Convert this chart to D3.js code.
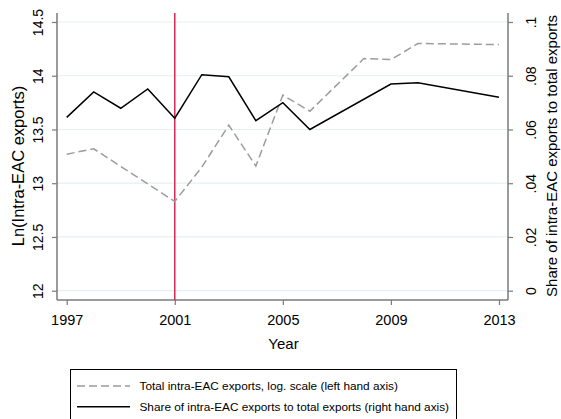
<!DOCTYPE html>
<html>
<head>
<meta charset="utf-8">
<script src="https://cdn.jsdelivr.net/npm/d3@7"></script>
<style>
  body { margin: 0; background: #fff; }
  svg { display: block; font-family: "Liberation Sans", Arial, sans-serif; }
</style>
</head>
<body>
<svg id="chart" width="561" height="419"></svg>
<script>
// total intra-EAC exports, ln (left axis) - years where vertices visible
const totalYears = [1997, 1998, 2001, 2002, 2003, 2004, 2005, 2006, 2008, 2009, 2010, 2013];
const totalLn = [13.27, 13.32, 12.83, 13.15, 13.54, 13.16, 13.82, 13.67, 14.16, 14.15, 14.30, 14.29];

// share of intra-EAC exports to total exports (right axis)
const shareYears = [1997, 1998, 1999, 2000, 2001, 2002, 2003, 2004, 2005, 2006, 2009, 2010, 2013];
const shareVals = [0.0645, 0.0740, 0.0679, 0.0751, 0.0642, 0.0804, 0.0796, 0.0633, 0.0700, 0.0600, 0.0769, 0.0774, 0.0720];

const xTicks = [1997, 2001, 2005, 2009, 2013];
const leftTicks = [12, 12.5, 13, 13.5, 14, 14.5];
const rightTicks = [0, 0.02, 0.04, 0.06, 0.08, 0.1];
const rightLabels = ["0", ".02", ".04", ".06", ".08", ".1"];
const markYear = 2001;

const legendItems = [
  "Total intra-EAC exports, log. scale (left hand axis)",
  "Share of intra-EAC exports to total exports (right hand axis)"
];

const svg = d3.select("#chart");
const axisColor = "#7a7a7a";
const dashGray = "#9c9c9c";

const plot = { left: 57, right: 508, top: 13, bottom: 300 };

const x = d3.scaleLinear().domain([1997, 2013]).range([66.7, 499]);
const yL = d3.scaleLinear().domain([12, 14.5]).range([290.7, 22]);
const yR = d3.scaleLinear().domain([0, 0.1]).range([290.7, 22]);

// gridlines
svg.append("g")
  .selectAll("line")
  .data(leftTicks)
  .enter().append("line")
  .attr("x1", plot.left).attr("x2", plot.right)
  .attr("y1", d => yL(d)).attr("y2", d => yL(d))
  .attr("stroke", "#e6eff2")
  .attr("stroke-width", 1.2);

// left axis
const gL = svg.append("g")
  .attr("transform", `translate(${plot.left},0)`)
  .call(d3.axisLeft(yL).tickValues(leftTicks).tickSize(5).tickFormat(d3.format("")));
gL.select(".domain").attr("d", `M0,${plot.top}V${plot.bottom}`);

// right axis
const gR = svg.append("g")
  .attr("transform", `translate(${plot.right},0)`)
  .call(d3.axisRight(yR).tickValues(rightTicks).tickSize(5)
    .tickFormat((d, i) => rightLabels[i]));
gR.select(".domain").attr("d", `M0,${plot.top}V${plot.bottom}`);

// bottom axis
const gB = svg.append("g")
  .attr("transform", `translate(0,${plot.bottom})`)
  .call(d3.axisBottom(x).tickValues(xTicks).tickSize(5).tickPadding(10).tickFormat(d3.format("d")));
gB.select(".domain").attr("d", `M${plot.left},0H${plot.right}`);

[gL, gR, gB].forEach(g => {
  g.select(".domain").attr("stroke", axisColor).attr("stroke-width", 1.5);
  g.selectAll(".tick line").attr("stroke", axisColor).attr("stroke-width", 1.2);
  g.selectAll(".tick text").attr("fill", "#000").style("font-size", "14px")
    .style("font-family", "'Liberation Sans', Arial, sans-serif");
});
gB.selectAll(".tick text").style("font-size", "14.5px");

// y tick labels are vertical
gL.selectAll(".tick text")
  .attr("x", null)
  .attr("text-anchor", "middle")
  .attr("dy", "0.35em")
  .attr("transform", "translate(-18.5,0) rotate(-90)");
gR.selectAll(".tick text")
  .attr("x", null)
  .attr("text-anchor", "middle")
  .attr("dy", "0.35em")
  .attr("transform", "translate(23.5,0) rotate(-90)");

// red vertical line
svg.append("line")
  .attr("x1", x(markYear)).attr("x2", x(markYear))
  .attr("y1", plot.top).attr("y2", plot.bottom)
  .attr("stroke", "#d42a55")
  .attr("stroke-width", 1.5);

// dashed series
const lineTotal = d3.line()
  .x((d, i) => x(totalYears[i]))
  .y(d => yL(d));
svg.append("path")
  .datum(totalLn)
  .attr("d", lineTotal)
  .attr("fill", "none")
  .attr("stroke", dashGray)
  .attr("stroke-width", 1.5)
  .attr("stroke-dasharray", "8,4");

// solid series
const lineShare = d3.line()
  .x((d, i) => x(shareYears[i]))
  .y(d => yR(d));
svg.append("path")
  .datum(shareVals)
  .attr("d", lineShare)
  .attr("fill", "none")
  .attr("stroke", "#000")
  .attr("stroke-width", 1.5);

// axis titles
svg.append("text")
  .attr("transform", "translate(24,166) rotate(-90)")
  .attr("text-anchor", "middle")
  .style("font-size", "16.5px")
  .text("Ln(Intra-EAC exports)");

svg.append("text")
  .attr("transform", "translate(557,156) rotate(-90)")
  .attr("text-anchor", "middle")
  .style("font-size", "15px")
  .text("Share of intra-EAC exports to total exports");

svg.append("text")
  .attr("x", (plot.left + plot.right) / 2 + 1)
  .attr("y", 349)
  .attr("text-anchor", "middle")
  .style("font-size", "15px")
  .text("Year");

// legend
const legend = svg.append("g");
legend.append("rect")
  .attr("x", 70.5).attr("y", 369.5)
  .attr("width", 386).attr("height", 60)
  .attr("fill", "#fff")
  .attr("stroke", "#000")
  .attr("stroke-width", 1);

legendItems.forEach((t, i) => {
  const ly = 386 + i * 20.7;
  legend.append("line")
    .attr("x1", 77).attr("x2", 130)
    .attr("y1", ly).attr("y2", ly)
    .attr("stroke", i === 0 ? dashGray : "#000")
    .attr("stroke-width", 1.5)
    .attr("stroke-dasharray", i === 0 ? "8,4" : null);
  legend.append("text")
    .attr("x", 139.5)
    .attr("y", ly + 4.2)
    .style("font-size", "11.8px")
    .text(t);
});
</script>
</body>
</html>
